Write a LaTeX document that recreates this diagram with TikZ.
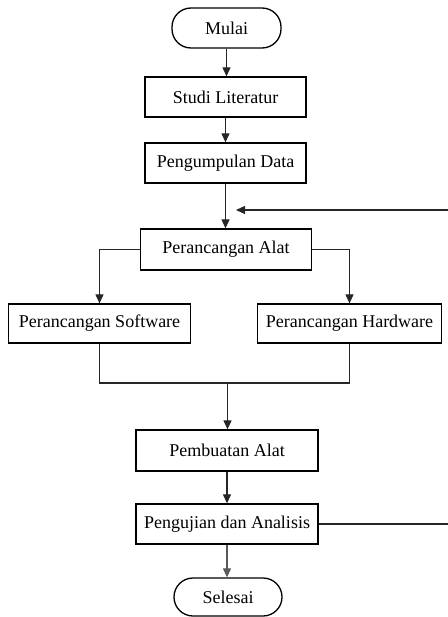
\documentclass[tikz,border=0pt]{standalone}
\usepackage{fontspec}
\setmainfont{Liberation Serif}
\usetikzlibrary{arrows.meta}
\begin{document}
\begin{tikzpicture}[x=1bp,y=-1bp,
  box/.style={draw, line width=1.3bp, minimum height=40bp, inner sep=0pt,
    font=\fontsize{18bp}{20bp}\selectfont},
  term/.style={box, rounded corners=19bp},
  conn/.style={line width=1.1bp, draw=black!85, -{Triangle[length=9bp,width=8bp]}},
  plain/.style={line width=1.1bp, draw=black!85}]
\useasboundingbox (0,0) rectangle (448,617);
\node[term, minimum width=109bp] (mulai) at (226.5,28) {Mulai};
\node[box, minimum width=161bp] (studi) at (225.5,97) {Studi Literatur};
\node[box, minimum width=161bp] (kumpul) at (225.5,163) {Pengumpulan Data};
\node[box, minimum width=171bp, minimum height=41bp] (alat) at (226,249.5) {Perancangan Alat};
\node[box, minimum width=182bp, minimum height=39bp] (soft) at (99.5,323.5) {Perancangan Software};
\node[box, minimum width=184bp, minimum height=39bp] (hard) at (349.5,323.5) {Perancangan Hardware};
\node[box, minimum width=182bp, minimum height=41bp] (buat) at (227,450.5) {Pembuatan Alat};
\node[box, minimum width=182bp] (uji) at (227,524) {Pengujian dan Analisis};
\node[term, minimum width=108bp, minimum height=38bp] (selesai) at (228,597) {Selesai};
\coordinate (fbin) at (449,210);
\coordinate (fbtip) at (236,210);
\coordinate (fbout) at (449,524);
\coordinate (join) at (227.5,383);
\draw[conn] (mulai.south) -- (mulai.south |- studi.north);
\draw[conn] (studi.south) -- (studi.south |- kumpul.north);
\draw[conn] (kumpul.south) -- (kumpul.south |- alat.north);
\draw[conn] (fbin) -- (fbtip);
\draw[conn] (alat.west) -| (soft.north);
\draw[conn] (alat.east) -| (hard.north);
\draw[plain] (soft.south) |- (join) -| (hard.south);
\draw[conn] (join) -- (join |- buat.north);
\draw[conn] (buat.south) -- (buat.south |- uji.north);
\draw[conn, draw=black!65, fill=black!65] (uji.south) -- (uji.south |- selesai.north);
\draw[plain] (uji.east) -- (uji.east -| fbout);
\end{tikzpicture}
\end{document}
